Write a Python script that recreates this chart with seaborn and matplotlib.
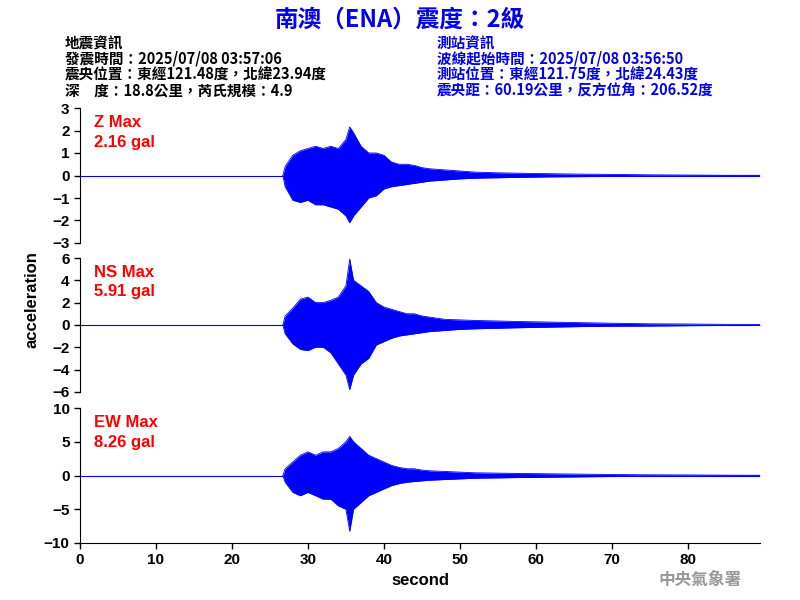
import matplotlib
matplotlib.use("Agg")
import matplotlib.pyplot as plt
import seaborn as sns
import numpy as np

sns.set_style("ticks")
plt.rcParams['font.family'] = ['Liberation Sans', 'Noto Sans CJK TC', 'DejaVu Sans']
plt.rcParams.update({'text.color': 'black', 'axes.labelcolor': 'black', 'xtick.color': 'black',
                     'ytick.color': 'black', 'axes.edgecolor': 'black'})

t = [26.7,27,28,29,30,31,32,33,34,35,35.5,36,37,38,39,40,41,42,43,44,45,46,48,50,52,55,58,62,66,70,75,80,85,89.5]
z_up = [0,0.4,0.9,1.1,1.2,1.3,1.2,1.3,1.2,1.6,2.16,1.9,1.3,1.0,1.0,0.9,0.6,0.5,0.5,0.45,0.35,0.3,0.25,0.2,0.15,0.12,0.1,0.08,0.06,0.05,0.03,0.02,0.01,0.01]
z_lo = [0,-0.5,-1.1,-1.2,-1.1,-1.3,-1.3,-1.4,-1.5,-1.8,-2.1,-1.8,-1.4,-1.0,-0.9,-0.6,-0.5,-0.45,-0.4,-0.35,-0.3,-0.25,-0.2,-0.15,-0.12,-0.1,-0.08,-0.06,-0.05,-0.04,-0.03,-0.02,-0.01,-0.01]
ns_up = [0,0.8,1.5,2.3,2.5,2.0,2.0,2.2,2.5,3.5,5.91,4.0,3.5,3.0,2.0,1.6,1.4,1.2,1.0,1.0,0.8,0.7,0.5,0.45,0.4,0.35,0.3,0.25,0.2,0.15,0.1,0.08,0.05,0.03]
ns_lo = [0,-0.8,-1.7,-2.2,-2.3,-2.0,-2.0,-2.5,-3.5,-4.5,-5.8,-4.5,-3.5,-3.0,-1.8,-1.5,-1.2,-1.0,-0.9,-0.8,-0.7,-0.6,-0.5,-0.4,-0.35,-0.3,-0.25,-0.2,-0.15,-0.12,-0.1,-0.07,-0.05,-0.03]
ew_up = [0,1,2,3,3.5,3.0,3.5,3.5,4,5,5.8,5,4,3,2.5,2.0,1.5,1.2,1.0,1.0,0.8,0.7,0.6,0.5,0.4,0.35,0.3,0.25,0.2,0.15,0.1,0.08,0.05,0.03]
ew_lo = [0,-1,-2.5,-3,-2.5,-3,-3.5,-3.5,-4.5,-5,-8.26,-5,-4,-3,-2.5,-2,-1.5,-1.2,-1.0,-0.9,-0.8,-0.7,-0.6,-0.5,-0.4,-0.35,-0.3,-0.25,-0.2,-0.15,-0.1,-0.08,-0.05,-0.03]

components = ["Z", "NS", "EW"]
max_vals = ["2.16", "5.91", "8.26"]
ylims = [3, 6, 10]
yticks = [list(range(-3, 4)), list(range(-6, 7, 2)), [-10, -5, 0, 5, 10]]
xticks = list(range(0, 90, 10))
xmax = 89.5

fig = plt.figure(figsize=(8, 6), dpi=100)
rects = [(0.1, 0.595, 0.85, 0.225), (0.1, 0.347, 0.85, 0.223), (0.1, 0.095, 0.85, 0.225)]
data = [(z_up, z_lo), (ns_up, ns_lo), (ew_up, ew_lo)]
for i, (r, (up, lo)) in enumerate(zip(rects, data)):
    ax = fig.add_axes(r)
    ax.axhline(0, color='#0000ff', lw=0.8)
    ax.fill_between(t, lo, up, color='#0000ff', lw=0)
    sns.lineplot(x=t, y=up, ax=ax, color='#0000ff', lw=0.6)
    sns.lineplot(x=t, y=lo, ax=ax, color='#0000ff', lw=0.6)
    ax.set_xlim(0, xmax)
    ax.set_ylim(-ylims[i], ylims[i])
    ax.set_yticks(yticks[i])
    for s in ['top', 'right']:
        ax.spines[s].set_visible(False)
    if i < 2:
        ax.spines['bottom'].set_visible(False)
        ax.set_xticks([])
    else:
        ax.set_xticks(xticks)
        ax.set_xlabel("second", fontsize=12, fontweight='bold')
    ax.tick_params(labelsize=11, length=4, width=1)
    for lab in ax.get_yticklabels() + ax.get_xticklabels():
        lab.set_fontweight('bold')
    ax.text(0.02, 0.95, f"{components[i]} Max\n{max_vals[i]} gal", transform=ax.transAxes,
            color='#ff0000', fontsize=12, fontweight='bold', va='top', linespacing=1.4)

fig.text(0.04, 0.5, "acceleration", rotation=90, fontsize=12, fontweight='bold', ha='center', va='center')
fig.text(0.5, 0.968, "南澳（ENA）震度：2級", color='#0000ee', fontsize=17, fontweight='bold', ha='center', va='center',
         family=['Noto Sans CJK TC', 'DejaVu Sans'])
left = ["地震資訊", "發震時間：2025/07/08 03:57:06", "震央位置：東經121.48度，北緯23.94度", "深　度：18.8公里，芮氏規模：4.9"]
right = ["測站資訊", "波線起始時間：2025/07/08 03:56:50", "測站位置：東經121.75度，北緯24.43度", "震央距：60.19公里，反方位角：206.52度"]
for j, (a, b) in enumerate(zip(left, right)):
    y = 1 - (43 + 16 * j) / 600
    fig.text(65 / 800, y, a, fontsize=10.5, fontweight='bold', color='black', va='center',
             family=['Noto Sans CJK TC', 'DejaVu Sans'])
    fig.text(437 / 800, y, b, fontsize=10.5, fontweight='bold', color='#0000ee', va='center',
             family=['Noto Sans CJK TC', 'DejaVu Sans'])
fig.text(700 / 800, 1 - 580 / 600, "中央氣象署", fontsize=12, fontweight='bold', color='#999999', ha='center', va='center',
         family=['Noto Sans CJK TC', 'DejaVu Sans'])
fig.savefig("out.png", dpi=100)
